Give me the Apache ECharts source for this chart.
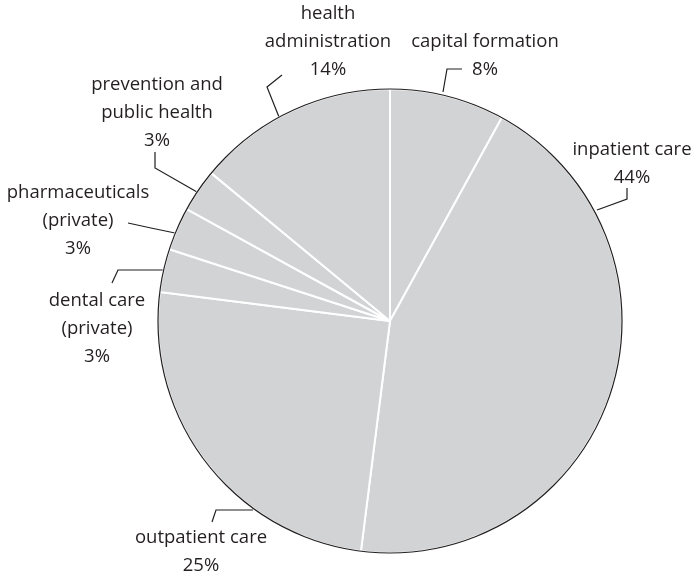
<!DOCTYPE html>
<html>
<head>
<meta charset="utf-8">
<script src="https://cdn.jsdelivr.net/npm/echarts@6/dist/echarts.min.js"></script>
<style>
html,body{margin:0;padding:0;background:#fff;}
#chart{width:695px;height:577px;}
</style>
</head>
<body>
<div id="chart"></div>
<script>
// Data (clockwise from 12 o'clock)
const categories = [
  'capital formation',
  'inpatient care',
  'outpatient care',
  'dental care\n(private)',
  'pharmaceuticals\n(private)',
  'prevention and\npublic health',
  'health\nadministration'
];
const shares = [8, 44, 25, 3, 3, 3, 14];

// label block centres and leader-line routes (layout only)
const labelPos = [
  [485, 56], [632, 164], [201, 552], [97, 329], [78, 221], [157, 113], [328, 42]
];
const leaderRoutes = [
  [[443, 92], [447, 69], [462, 69]],
  [[597, 210], [627, 199], [627, 188]],
  [[253, 510], [216, 510], [212, 522]],
  [[163, 270], [118, 270], [112, 283]],
  [[175, 233], [151, 228], [128, 223]],
  [[197, 192], [155, 168], [155, 152]],
  [[279, 117], [267, 87], [282, 75]]
];

const chart = echarts.init(document.getElementById('chart'), null, {renderer: 'canvas'});
const ink = '#231f20';
const center = [390, 321];
const radius = 232;

chart.setOption({
  animation: false,
  backgroundColor: '#ffffff',
  series: [
    {
      type: 'pie',
      center: center,
      radius: radius,
      startAngle: 90,
      clockwise: true,
      avoidLabelOverlap: false,
      data: categories.map((c, i) => ({name: c, value: shares[i]})),
      itemStyle: {color: '#d1d3d4', borderColor: '#ffffff', borderWidth: 2},
      label: {
        show: true,
        position: 'outside',
        formatter: p => p.name + '\n' + p.value + '%',
        fontFamily: 'Open Sans',
        fontSize: 18.5,
        lineHeight: 28,
        color: ink,
        align: 'center'
      },
      labelLine: {
        show: true,
        length: 12,
        length2: 10,
        lineStyle: {color: ink, width: 1.2}
      },
      labelLayout: function (params) {
        const i = params.dataIndex;
        const p = labelPos[i];
        return {
          x: p[0], y: p[1], align: 'center', verticalAlign: 'middle',
          hideOverlap: false, moveOverlap: null,
          labelLinePoints: leaderRoutes[i]
        };
      },
      emphasis: {disabled: true},
      silent: true
    },
    {
      type: 'pie',
      center: center,
      radius: radius,
      silent: true,
      z: 5,
      data: [{value: 1, name: 'outline'}],
      itemStyle: {color: 'rgba(0,0,0,0)', borderColor: ink, borderWidth: 1.2},
      label: {show: false},
      labelLine: {show: false},
      emphasis: {disabled: true}
    }
  ]
});
</script>
</body>
</html>
